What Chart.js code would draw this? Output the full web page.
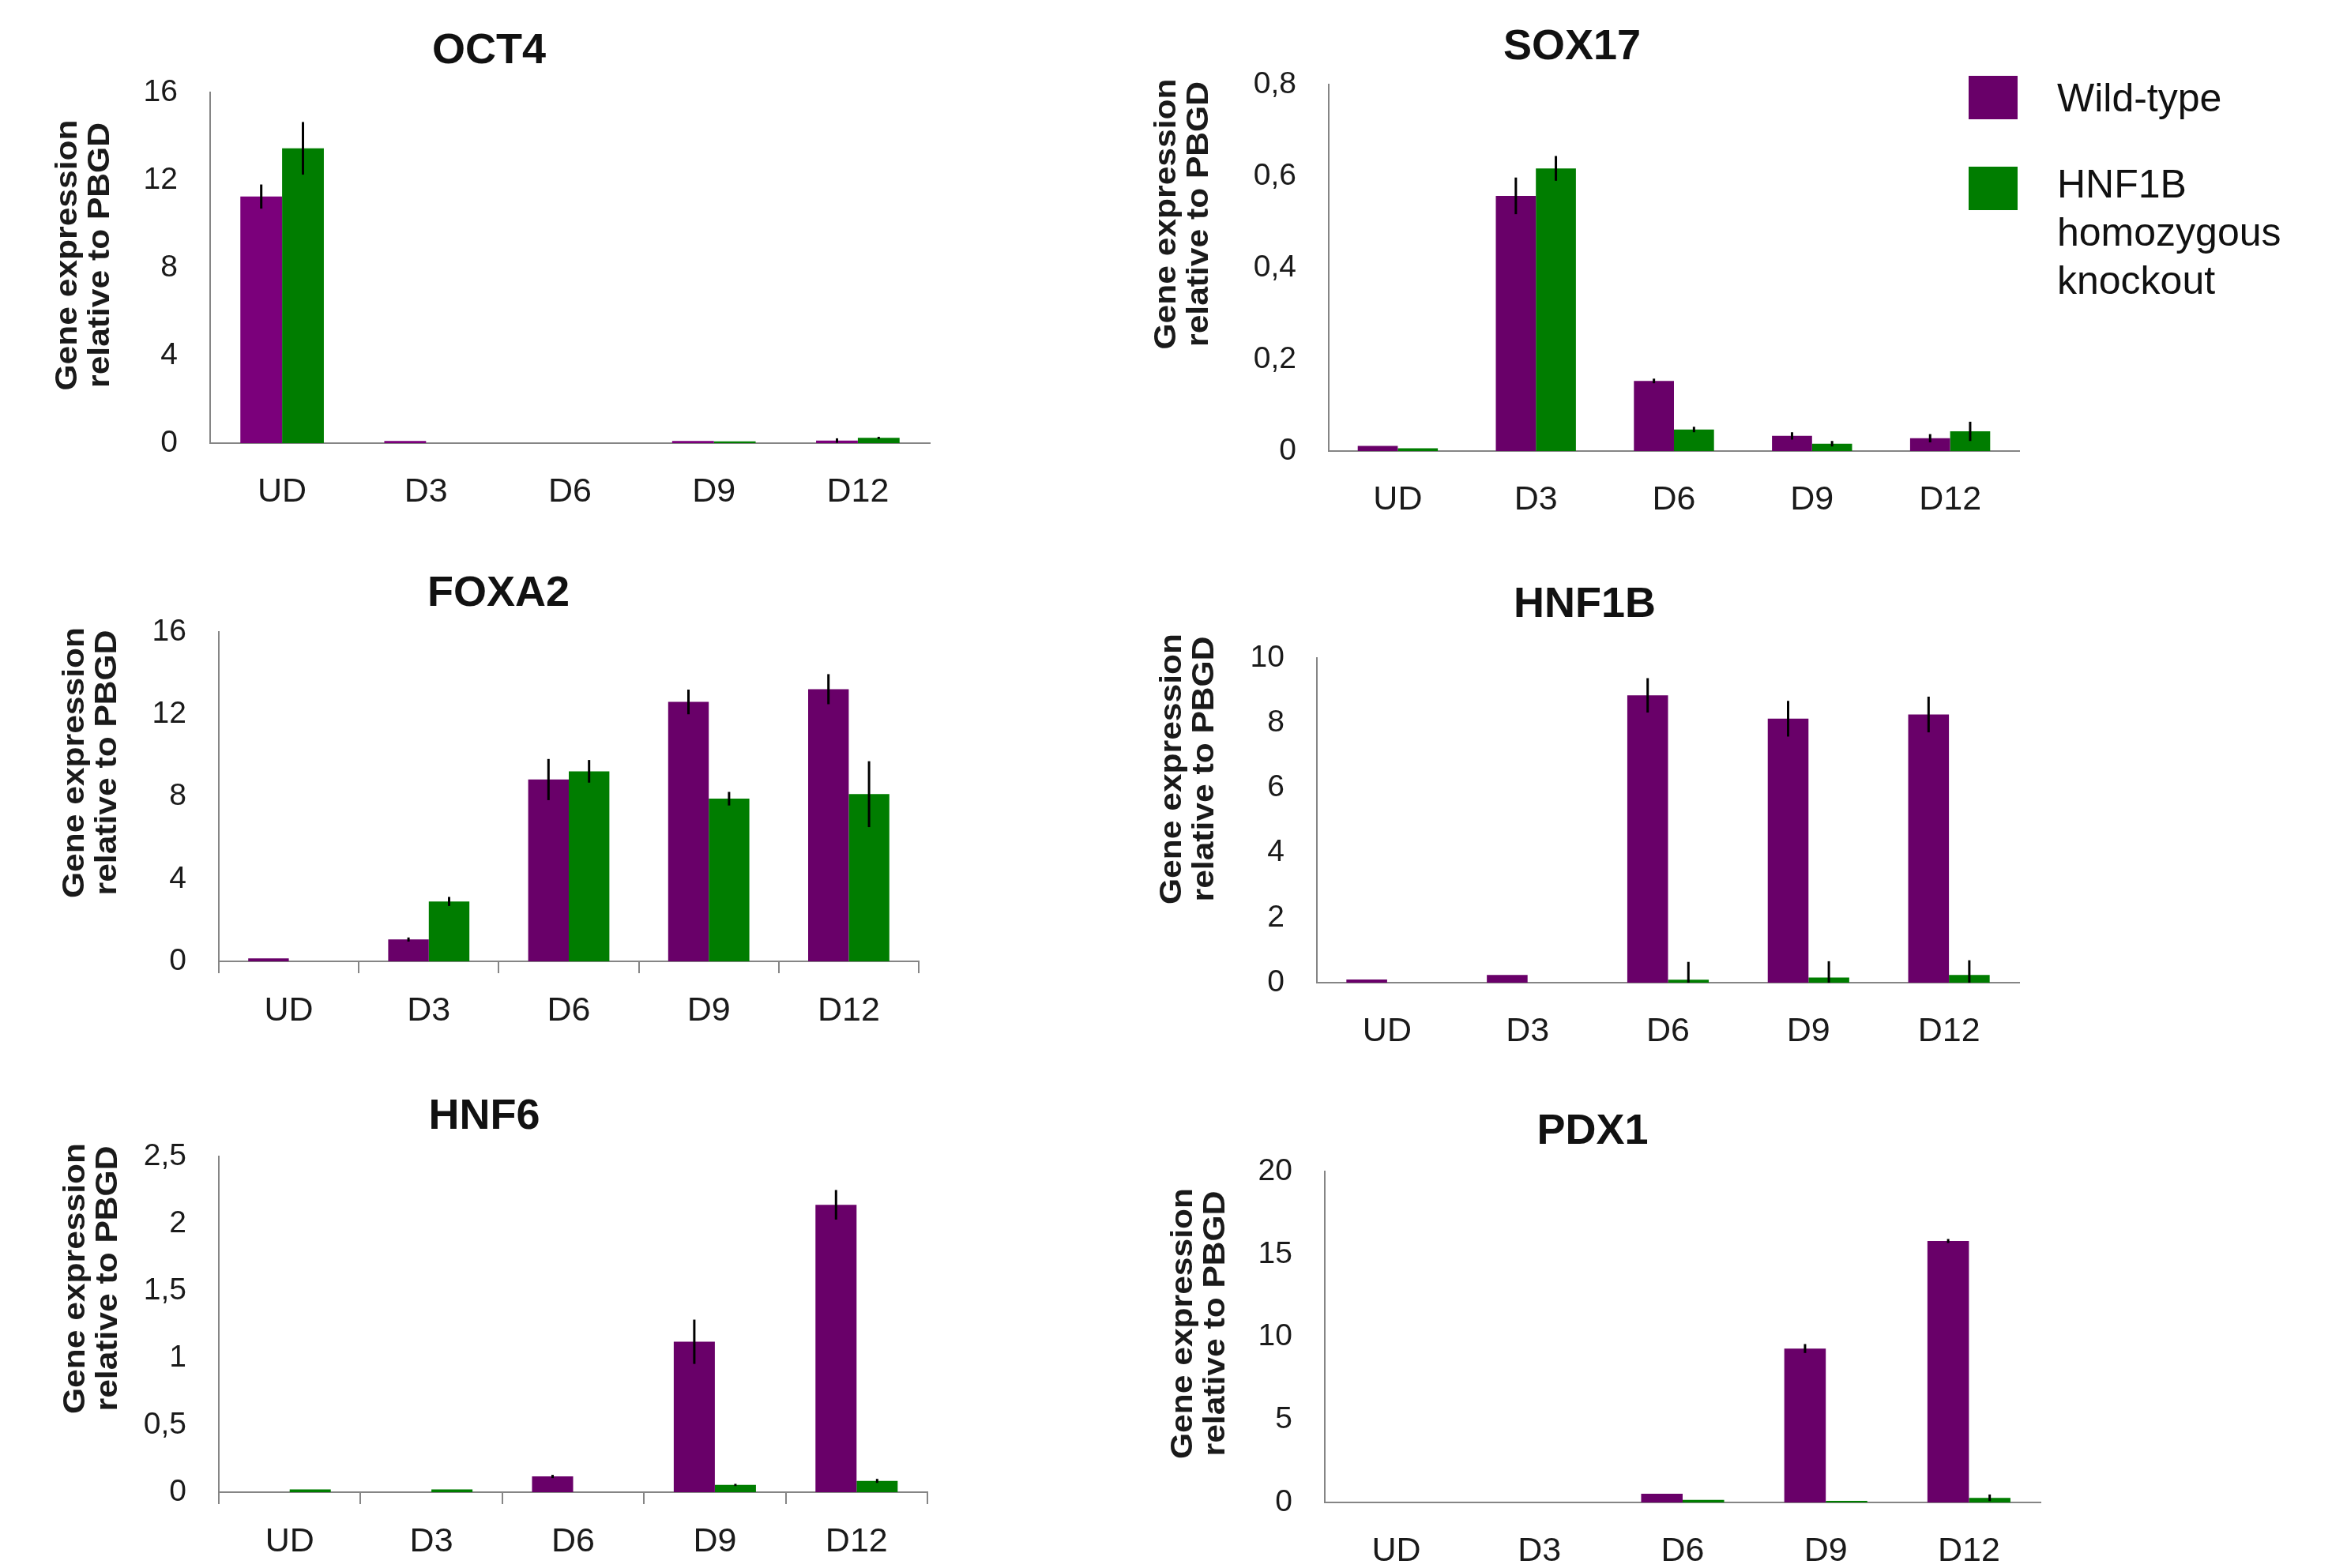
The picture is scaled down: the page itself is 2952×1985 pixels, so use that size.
<!DOCTYPE html>
<html>
<head>
<meta charset="utf-8">
<script src="https://cdn.jsdelivr.net/npm/chart.js@4.4.1/dist/chart.umd.min.js"></script>
<style>
  html, body { margin: 0; padding: 0; background: #fff; }
  body { width: 2952px; height: 1985px; position: relative; overflow: hidden; font-family: "Liberation Sans", Arial, sans-serif; }
  canvas { position: absolute; }
  .key { position: absolute; width: 62px; height: 55px; }
  .keytext { position: absolute; left: 2604px; width: 300px; font-size: 50px; line-height: 61px; color: #111; }
</style>
</head>
<body>
<script>
// categories and series
const days = ['UD', 'D3', 'D6', 'D9', 'D12'];
const seriesNames = ['Wild-type', 'HNF1B homozygous knockout'];
const seriesColors = ['#690069', '#007d00'];
const yCaption = ['Gene expression', 'relative to PBGD'];

// values (mean, error)
const oct4WT = [11.25, 0.1, 0, 0.1, 0.12];
const oct4WTErr = [0.55, 0, 0, 0, 0.1];
const oct4KO = [13.45, 0, 0, 0.08, 0.24];
const oct4KOErr = [1.2, 0, 0, 0, 0.05];

const sox17WT = [0.011, 0.557, 0.153, 0.033, 0.028];
const sox17WTErr = [0, 0.04, 0.005, 0.008, 0.009];
const sox17KO = [0.006, 0.617, 0.047, 0.016, 0.043];
const sox17KOErr = [0, 0.027, 0.006, 0.006, 0.021];

const foxa2WT = [0.14, 1.06, 8.83, 12.6, 13.22];
const foxa2WTErr = [0, 0.1, 1.0, 0.6, 0.73];
const foxa2KO = [0, 2.91, 9.23, 7.9, 8.12];
const foxa2KOErr = [0, 0.22, 0.55, 0.33, 1.6];

const hnf1bWT = [0.1, 0.24, 8.85, 8.13, 8.26];
const hnf1bWTErr = [0, 0, 0.53, 0.55, 0.55];
const hnf1bKO = [0, 0, 0.09, 0.16, 0.24];
const hnf1bKOErr = [0, 0, 0.55, 0.5, 0.45];

const hnf6WT = [0, 0, 0.117, 1.12, 2.14];
const hnf6WTErr = [0, 0, 0.012, 0.165, 0.11];
const hnf6KO = [0.02, 0.02, 0, 0.054, 0.084];
const hnf6KOErr = [0, 0, 0, 0.008, 0.015];

const pdx1WT = [0, 0, 0.53, 9.3, 15.8];
const pdx1WTErr = [0, 0, 0, 0.27, 0.12];
const pdx1KO = [0, 0, 0.15, 0.1, 0.28];
const pdx1KOErr = [0, 0, 0, 0, 0.2];

// y axis ranges
const yMax = { OCT4: 16, SOX17: 0.8, FOXA2: 16, HNF1B: 10, HNF6: 2.5, PDX1: 20 };
const yStep = { OCT4: 4, SOX17: 0.2, FOXA2: 4, HNF1B: 2, HNF6: 0.5, PDX1: 5 };

Chart.defaults.font.family = '"Liberation Sans", Arial, sans-serif';
Chart.defaults.color = '#1a1a1a';

/**
 * Draws the vertical error bars on top of each bar
 */
const errorBars = {
    id: 'errorBars',
    afterDatasetsDraw(chart) {
        const { ctx, chartArea, scales } = chart;
        ctx.save();
        ctx.beginPath();
        ctx.rect(chartArea.left, chartArea.top, chartArea.width, chartArea.height);
        ctx.clip();
        ctx.strokeStyle = '#000';
        ctx.lineWidth = 3;
        chart.data.datasets.forEach((ds, i) => {
            const meta = chart.getDatasetMeta(i);
            ds.errors.forEach((e, j) => {
                if (!e) return;
                const bar = meta.data[j];
                const v = ds.data[j];
                ctx.beginPath();
                ctx.moveTo(bar.x, scales.y.getPixelForValue(v - e));
                ctx.lineTo(bar.x, scales.y.getPixelForValue(v + e));
                ctx.stroke();
            });
        });
        ctx.restore();
    }
};

/**
 * Two line rotated caption left of the y axis
 */
const axisCaption = {
    id: 'axisCaption',
    afterDraw(chart, args, opts) {
        const { ctx, chartArea } = chart;
        const cx = chartArea.left + opts.dx;
        const cy = (chartArea.top + chartArea.bottom) / 2 + opts.dy;
        ctx.save();
        ctx.translate(cx, cy);
        ctx.rotate(-Math.PI / 2);
        ctx.scale(1.12, 1);
        ctx.font = 'bold 38px "Liberation Sans", Arial, sans-serif';
        ctx.fillStyle = '#1a1a1a';
        ctx.textAlign = 'center';
        ctx.textBaseline = 'middle';
        opts.lines.forEach((line, k) => ctx.fillText(line, 0, k * 41));
        ctx.restore();
    }
};

// page layout of each panel: plot box, title centre, caption offset
const panels = [
    { name: 'OCT4',  wt: oct4WT,  wtErr: oct4WTErr,  ko: oct4KO,  koErr: oct4KOErr, wtColor: '#7b007b',
      L: 0,    T: 0,    x0: 266,  x1: 1177, yTop: 117,  y0: 561,  tx: 619,  ty: 65,   dx: -179, dy: -16, ticks: false },
    { name: 'SOX17', wt: sox17WT, wtErr: sox17WTErr, ko: sox17KO, koErr: sox17KOErr,
      L: 1400, T: 0,    x0: 1682, x1: 2556, yTop: 107,  y0: 571,  tx: 1990, ty: 60,   dx: -204, dy: -68, ticks: false },
    { name: 'FOXA2', wt: foxa2WT, wtErr: foxa2WTErr, ko: foxa2KO, koErr: foxa2KOErr,
      L: 0,    T: 680,  x0: 277,  x1: 1163, yTop: 800,  y0: 1217, tx: 631,  ty: 752,  dx: -181, dy: -43, ticks: true },
    { name: 'HNF1B', wt: hnf1bWT, wtErr: hnf1bWTErr, ko: hnf1bKO, koErr: hnf1bKOErr,
      L: 1400, T: 680,  x0: 1667, x1: 2556, yTop: 833,  y0: 1244, tx: 2006, ty: 766,  dx: -182, dy: -65, ticks: false },
    { name: 'HNF6',  wt: hnf6WT,  wtErr: hnf6WTErr,  ko: hnf6KO,  koErr: hnf6KOErr,
      L: 0,    T: 1340, x0: 277,  x1: 1174, yTop: 1464, y0: 1889, tx: 613,  ty: 1414, dx: -180, dy: -58, ticks: true },
    { name: 'PDX1',  wt: pdx1WT,  wtErr: pdx1WTErr,  ko: pdx1KO,  koErr: pdx1KOErr,
      L: 1400, T: 1340, x0: 1677, x1: 2583, yTop: 1483, y0: 1902, tx: 2016, ty: 1433, dx: -178, dy: -17, ticks: false }
];

const axisGrey = '#858585';
const titleSize = 54;
const titleLH = titleSize * 1.2;

function fmt(v) {
    return String(+v.toFixed(2)).replace('.', ',');
}

panels.forEach(p => {
    const W = p.x1 + 60 - p.L;
    const H = p.y0 + 110 - p.T;
    const padLeft = (2 * p.tx - p.x1) - p.L;
    const yWidth = p.x0 - (p.L + padLeft);

    const canvas = document.createElement('canvas');
    canvas.width = W;
    canvas.height = H;
    canvas.style.left = p.L + 'px';
    canvas.style.top = p.T + 'px';
    canvas.style.width = W + 'px';
    canvas.style.height = H + 'px';
    document.body.appendChild(canvas);

    new Chart(canvas, {
        type: 'bar',
        data: {
            labels: days,
            datasets: [
                { label: seriesNames[0], data: p.wt, errors: p.wtErr, backgroundColor: p.wtColor || seriesColors[0], borderWidth: 0 },
                { label: seriesNames[1], data: p.ko, errors: p.koErr, backgroundColor: seriesColors[1], borderWidth: 0 }
            ]
        },
        options: {
            responsive: false,
            animation: false,
            layout: { padding: { left: padLeft, right: 60, top: 0, bottom: 0 } },
            datasets: { bar: { categoryPercentage: 0.58, barPercentage: 1 } },
            plugins: {
                legend: { display: false },
                tooltip: { enabled: false },
                title: {
                    display: true,
                    text: p.name,
                    color: '#111',
                    font: { size: titleSize, weight: 'bold', lineHeight: 1.2 },
                    padding: { top: p.ty - p.T - titleLH / 2, bottom: p.yTop - p.ty - titleLH / 2 }
                },
                axisCaption: { lines: yCaption, dx: p.dx, dy: p.dy }
            },
            scales: {
                x: {
                    afterFit: s => { s.height = 110; },
                    border: { display: true, color: axisGrey, width: 2 },
                    grid: {
                        display: p.ticks, drawOnChartArea: false, drawTicks: p.ticks,
                        tickLength: 15, color: axisGrey, lineWidth: 2, offset: true
                    },
                    ticks: { font: { size: 43 }, color: '#1a1a1a', padding: p.ticks ? 22 : 36, maxRotation: 0 }
                },
                y: {
                    min: 0,
                    max: yMax[p.name],
                    afterFit: s => { s.width = yWidth; },
                    border: { display: true, color: axisGrey, width: 2 },
                    grid: { display: false, drawTicks: false },
                    ticks: { stepSize: yStep[p.name], font: { size: 39 }, color: '#1a1a1a', padding: 41, callback: v => fmt(v) }
                }
            }
        },
        plugins: [errorBars, axisCaption]
    });
});

// legend built from the series names
const keyTops = [96, 211];
const textTops = [94, 203];
seriesNames.forEach((name, i) => {
    const box = document.createElement('div');
    box.className = 'key';
    box.style.left = '2492px';
    box.style.top = keyTops[i] + 'px';
    box.style.background = seriesColors[i];
    document.body.appendChild(box);
    const txt = document.createElement('div');
    txt.className = 'keytext';
    txt.style.top = textTops[i] + 'px';
    txt.textContent = name;
    document.body.appendChild(txt);
});
</script>
</body>
</html>
